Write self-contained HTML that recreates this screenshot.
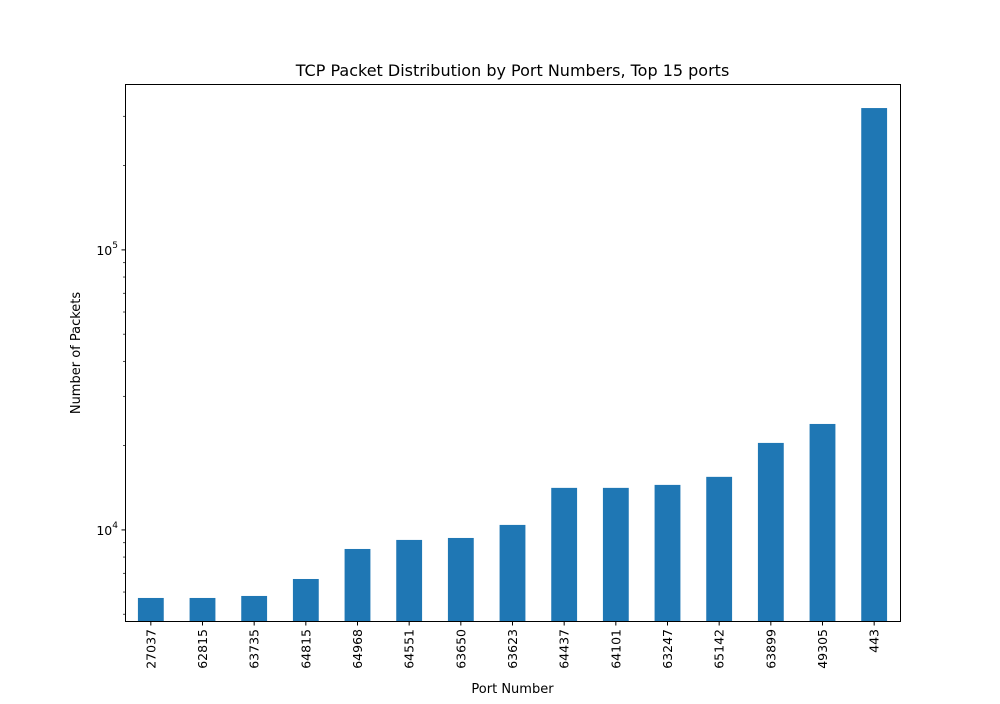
<!DOCTYPE html>
<html><head><meta charset="utf-8"><style>
body{margin:0;background:#fff;font-family:"Liberation Sans","DejaVu Sans",sans-serif}
</style></head><body>
<svg id="chart" width="1000" height="699" xmlns="http://www.w3.org/2000/svg" font-family="'DejaVu Sans','Liberation Sans',sans-serif">
<rect width="1000" height="699" fill="#fff"/>
<text x="512.5" y="76" font-size="16" text-anchor="middle">TCP Packet Distribution by Port Numbers, Top 15 ports</text>
<text x="512.5" y="693" font-size="13" text-anchor="middle">Port Number</text>
<text transform="translate(80,353) rotate(-90)" font-size="13" text-anchor="middle">Number of Packets</text>
<g id="bars"></g><g id="ticks"></g>
<rect x="125.5" y="84.5" width="775" height="537" fill="none" stroke="#000" stroke-width="1"/>
</svg>
<script>
const categories=["27037","62815","63735","64815","64968","64551","63650","63623","64437","64101","63247","65142","63899","49305","443"];
const packets=[5715,5715,5810,6680,8550,9210,9360,10420,14130,14130,14480,15470,20450,23900,321000];
const majorTicks=[10000,100000];
const majorLabels=["4","5"];
const minorTicks=[5000,6000,7000,8000,9000,20000,30000,40000,50000,60000,70000,80000,90000,200000,300000];
const ns="http://www.w3.org/2000/svg";
const X0=125,W=775,YT=85,YB=622,LMIN=Math.log10(4690),LMAX=Math.log10(388000);
function y(v){return YB-(Math.log10(v)-LMIN)/(LMAX-LMIN)*(YB-YT);}
const step=W/categories.length;
function xc(i){return X0+step*(i+0.5);}
function mk(t,a,p){const e=document.createElementNS(ns,t);for(const k in a)e.setAttribute(k,a[k]);p.appendChild(e);return e;}
const bars=document.getElementById('bars'),ticks=document.getElementById('ticks');
categories.forEach((c,i)=>{
 const b=mk('rect',{x:xc(i)-step*0.25,y:y(packets[i]),width:step*0.5,height:YB-y(packets[i]),fill:'#1f77b4'},bars);
 
 
 mk('line',{x1:xc(i),x2:xc(i),y1:YB,y2:YB+3.5,stroke:'#000'},ticks);
 const t=mk('text',{transform:`translate(${xc(i)+4.5},${YB+7}) rotate(-90)`,'font-size':'12.5','text-anchor':'end'},ticks);
 t.textContent=c;
 
 
});
majorTicks.forEach((v,i)=>{
 mk('line',{x1:X0-3.5,x2:X0,y1:y(v),y2:y(v),stroke:'#000'},ticks);
 const t=mk('text',{x:X0-7,y:y(v)+5,'font-size':'12.5','text-anchor':'end'},ticks);
 t.innerHTML='10<tspan dy="-7" font-size="9">'+majorLabels[i]+'</tspan>';
 
 
});
minorTicks.forEach(v=>{mk('line',{x1:X0-2,x2:X0,y1:y(v),y2:y(v),stroke:'#000','stroke-width':0.7},ticks);});
</script>
</body></html>
